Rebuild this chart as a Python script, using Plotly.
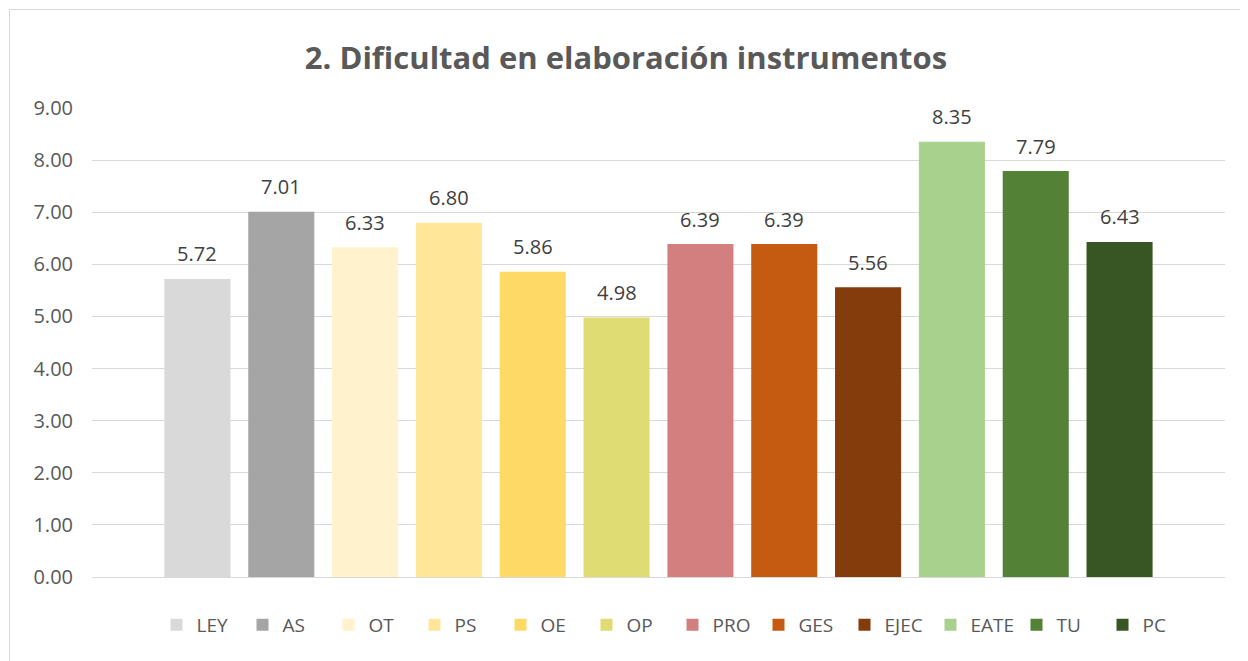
import plotly.graph_objects as go

categories = ["LEY", "AS", "OT", "PS", "OE", "OP", "PRO", "GES", "EJEC", "EATE", "TU", "PC"]
values = [5.72, 7.01, 6.33, 6.80, 5.86, 4.98, 6.39, 6.39, 5.56, 8.35, 7.79, 6.43]
colors = ["#D9D9D9", "#A5A5A5", "#FFF2CC", "#FFE699", "#FFD966", "#E0DC74",
          "#D47F7F", "#C55A11", "#843C0C", "#A9D18E", "#538135", "#375623"]
y_ticks = [0, 1, 2, 3, 4, 5, 6, 7, 8, 9]
title_text = "2. Dificultad en elaboración instrumentos"

FONT = "Open Sans"
OFF = 8  # page body margin
W, H = 1248 - OFF, 661 - OFF
L, R, T, B = 92 - OFF, 1248 - 1225, 108 - OFF, 661 - 577
PW, PH = W - L - R, H - T - B

fig = go.Figure()
xs = list(range(len(categories)))
for i, (c, v, col) in enumerate(zip(categories, values, colors)):
    fig.add_trace(go.Bar(x=[xs[i]], y=[v], name=c, marker=dict(color=col, line=dict(width=0)),
                         width=0.788, hoverinfo="skip"))
    fig.add_annotation(x=xs[i], y=v, text=f"{v:.2f}", showarrow=False, yshift=25,
                       font=dict(family=FONT, size=20, color="#404040"))

edge = 63.5 / 83.8
fig.update_layout(
    width=W, height=H,
    paper_bgcolor="white", plot_bgcolor="white",
    margin=dict(l=L, r=R, t=T, b=B),
    title=dict(text=f"<b>{title_text}</b>", x=(626 - OFF) / W, xanchor="center",
               y=1 - (58 - OFF) / H, yanchor="middle",
               font=dict(family=FONT, size=31, color="#595959")),
    barmode="overlay",
    showlegend=True,
    legend=dict(orientation="h", x=0.5 + 14 / PW, xanchor="center", y=-(625 - 577) / PH,
                yanchor="middle",
                font=dict(family=FONT, size=19, color="#595959"), itemclick=False,
                entrywidth=41, entrywidthmode="pixels"),
    xaxis=dict(range=[-0.5 - edge, len(categories) - 0.5 + edge], showticklabels=False,
               showgrid=False, zeroline=False, showline=True, linecolor="#D9D9D9", linewidth=1,
               ticks=""),
    yaxis=dict(range=[0, 9], tickvals=y_ticks, ticktext=[f"{t:.2f}" for t in y_ticks],
               showgrid=True, gridcolor="#D9D9D9", gridwidth=1, zeroline=False, showline=False,
               tickfont=dict(family=FONT, size=20, color="#595959"), ticks="", ticklabelstandoff=18),
)
fig.add_shape(type="rect", xref="paper", yref="paper",
              x0=(9.5 - 92) / PW, x1=(1262 - 92) / PW,
              y0=(577 - 700) / PH, y1=(577 - 9.5) / PH,
              line=dict(color="#D9D9D9", width=1), fillcolor="rgba(0,0,0,0)", layer="below")
fig.write_html("out.html")
